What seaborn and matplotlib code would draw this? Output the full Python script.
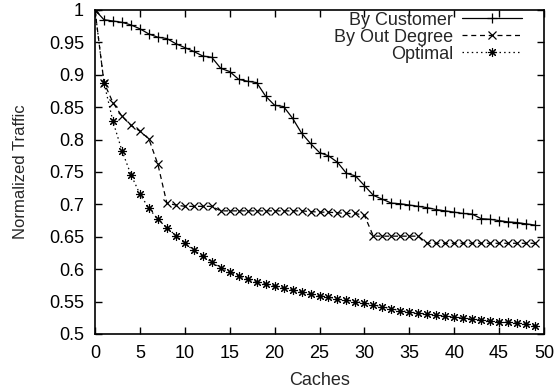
import matplotlib
matplotlib.use("Agg")
import matplotlib.pyplot as plt
import seaborn as sns
import pandas as pd

caches = list(range(50))

by_customer = [1.0, 0.985, 0.983, 0.981, 0.977, 0.971, 0.963, 0.958, 0.956, 0.948,
               0.942, 0.936, 0.929, 0.927, 0.910, 0.905, 0.893, 0.890, 0.888, 0.867,
               0.853, 0.851, 0.833, 0.810, 0.794, 0.780, 0.775, 0.765, 0.748, 0.744,
               0.729, 0.714, 0.708, 0.702, 0.701, 0.699, 0.697, 0.695, 0.692, 0.690,
               0.688, 0.686, 0.685, 0.678, 0.677, 0.675, 0.673, 0.672, 0.670, 0.668]

by_out_degree = [1.0, 0.888, 0.857, 0.836, 0.822, 0.813, 0.801, 0.762, 0.702, 0.699,
                 0.697, 0.697, 0.697, 0.697, 0.690, 0.690, 0.690, 0.690, 0.690, 0.690,
                 0.690, 0.690, 0.690, 0.690, 0.689, 0.688, 0.688, 0.687, 0.686, 0.686,
                 0.683, 0.651, 0.651, 0.651, 0.651, 0.651, 0.651, 0.640, 0.640, 0.640,
                 0.640, 0.640, 0.640, 0.640, 0.640, 0.640, 0.640, 0.640, 0.640, 0.640]

optimal = [1.0, 0.888, 0.828, 0.783, 0.746, 0.716, 0.694, 0.677, 0.664, 0.652,
           0.640, 0.629, 0.620, 0.611, 0.602, 0.595, 0.590, 0.585, 0.581, 0.577,
           0.574, 0.571, 0.568, 0.565, 0.562, 0.559, 0.557, 0.554, 0.552, 0.550,
           0.548, 0.545, 0.542, 0.539, 0.536, 0.534, 0.532, 0.531, 0.529, 0.528,
           0.526, 0.525, 0.523, 0.522, 0.520, 0.519, 0.518, 0.517, 0.515, 0.513]

df = pd.DataFrame({"Caches": caches, "By Customer": by_customer,
                   "By Out Degree": by_out_degree, "Optimal": optimal})

sns.set_style("ticks")
plt.rcParams["font.family"] = ["Liberation Sans", "DejaVu Sans"]

fig = plt.figure(figsize=(5.54, 3.92), dpi=100)
ax = fig.add_axes([95 / 554, 58 / 392, 449 / 554, 324 / 392])

styles = {
    "By Customer": dict(linestyle="-", marker="+", markersize=7, markeredgewidth=0.9),
    "By Out Degree": dict(linestyle=(0, (4, 3)), marker="x", markersize=5.5,
                          markeredgewidth=0.9),
    "Optimal": dict(linestyle=(0, (1.2, 2.5)), marker=(8, 2, 0), markersize=6.5,
                    markeredgewidth=0.8),
}
for name, st in styles.items():
    sns.lineplot(data=df, x="Caches", y=name, ax=ax, color="black",
                 linewidth=0.9, markeredgecolor="black",
                 markerfacecolor="black", label=name, **st)

ax.set_xlim(0, 50)
ax.set_ylim(0.5, 1.0)
ax.set_xticks(range(0, 51, 5))
ax.set_yticks([0.5, 0.55, 0.6, 0.65, 0.7, 0.75, 0.8, 0.85, 0.9, 0.95, 1.0])
ax.set_yticklabels(["0.5", "0.55", "0.6", "0.65", "0.7", "0.75", "0.8",
                    "0.85", "0.9", "0.95", "1"])
ax.tick_params(direction="in", length=5, width=1, top=True, right=True,
               labelsize=13, pad=8, colors="black")
for s in ax.spines.values():
    s.set_linewidth(1.2)
    s.set_color("black")
    s.set_visible(True)

ax.set_xlabel("Caches", fontsize=13, labelpad=7)
ax.set_ylabel("Normalized Traffic", fontsize=12, labelpad=15)

ax.legend(loc="upper right", markerfirst=False, frameon=False, fontsize=13,
          handlelength=3.3, handletextpad=0.5, labelspacing=0.0,
          borderaxespad=0.0, borderpad=0.0, bbox_to_anchor=(0.95, 0.995))
leg = ax.get_legend()
for t in leg.get_texts():
    t.set_ha("right")

fig.savefig("out.png", dpi=100)
